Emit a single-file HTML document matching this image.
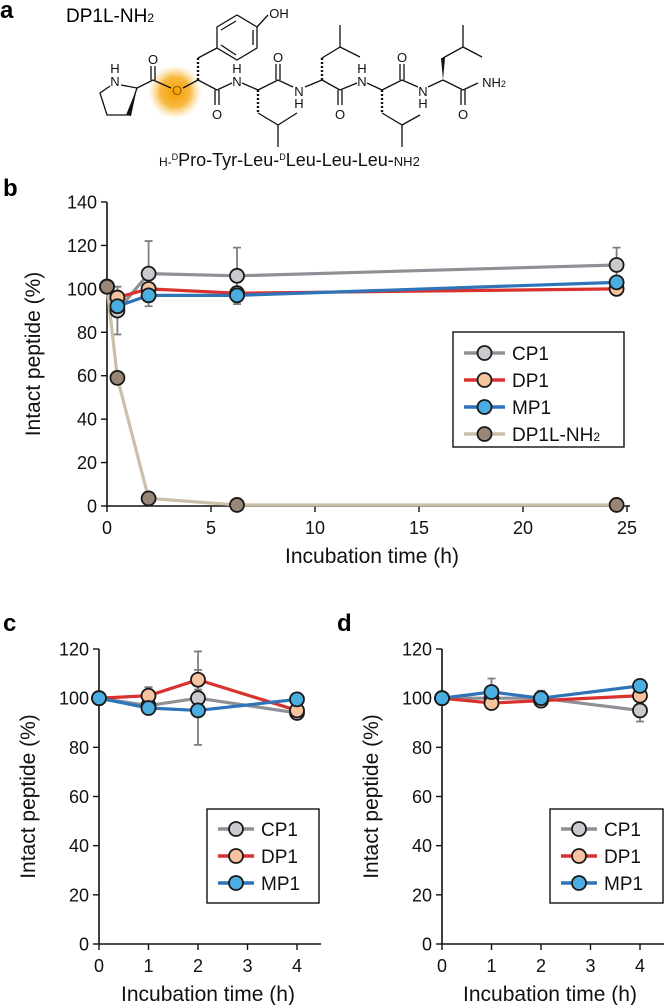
<!DOCTYPE html>
<html><head><meta charset="utf-8"><style>
html,body{margin:0;padding:0;background:#fff;}
svg{display:block;font-family:"Liberation Sans",Arial,sans-serif;}
</style></head><body>
<svg id="fig" width="665" height="1005" viewBox="0 0 665 1005" xmlns="http://www.w3.org/2000/svg">
<defs>
<radialGradient id="glow"><stop offset="0" stop-color="#f5a000"/><stop offset="0.55" stop-color="#f7b02a" stop-opacity="0.9"/><stop offset="1" stop-color="#fbd27a" stop-opacity="0"/></radialGradient>
</defs>
<g>
<text x="0" y="18" font-size="24" font-weight="bold">a</text>
<text x="66" y="22" font-size="19">DP1L-NH<tspan font-size="12">2</tspan></text>
<circle cx="175" cy="92" r="27" fill="url(#glow)"/>
<g stroke="#111" stroke-width="1.3" fill="none">
<polyline points="121,85 137,88 128,115 107,115 100,93 110,86"/>
<line x1="137" y1="88" x2="153" y2="80"/><line x1="153" y1="80" x2="171" y2="88"/>
<line x1="151" y1="80" x2="151" y2="66"/><line x1="155" y1="80" x2="155" y2="66"/>
<line x1="183" y1="88" x2="198" y2="80"/><line x1="198" y1="80" x2="217" y2="90"/><line x1="217" y1="90" x2="232" y2="83"/>
<line x1="198" y1="80" x2="198" y2="58" stroke-dasharray="2,2" stroke-width="2.4"/>
<line x1="198" y1="58" x2="217" y2="48"/>
<polygon points="217,48 217,27 237,15 257,27 257,48 237,60"/>
<line x1="221" y1="30" x2="236" y2="21"/><line x1="253" y1="30" x2="253" y2="45"/><line x1="221" y1="45" x2="236" y2="55"/>
<line x1="257" y1="27" x2="268" y2="15"/>
<line x1="215" y1="90" x2="215" y2="105"/><line x1="219" y1="90" x2="219" y2="105"/>
<line x1="242" y1="83" x2="258" y2="90"/><line x1="258" y1="90" x2="278" y2="80"/><line x1="278" y1="80" x2="293" y2="87"/>
<line x1="258" y1="90" x2="258" y2="113" stroke-dasharray="2,2" stroke-width="2.4"/>
<polyline points="258,113 278,125 278,147"/><line x1="278" y1="125" x2="297" y2="113"/>
<line x1="276" y1="80" x2="276" y2="64"/><line x1="280" y1="80" x2="280" y2="64"/>
<line x1="305" y1="87" x2="322" y2="80"/><line x1="322" y1="80" x2="340" y2="90"/><line x1="340" y1="90" x2="357" y2="83"/>
<line x1="322" y1="80" x2="322" y2="58" stroke-dasharray="2,2" stroke-width="2.4"/>
<polyline points="322,58 340,47 340,25"/><line x1="340" y1="47" x2="360" y2="57"/>
<line x1="338" y1="90" x2="338" y2="105"/><line x1="342" y1="90" x2="342" y2="105"/>
<line x1="367" y1="83" x2="382" y2="90"/><line x1="382" y1="90" x2="402" y2="80"/><line x1="402" y1="80" x2="418" y2="87"/>
<line x1="382" y1="90" x2="382" y2="113" stroke-dasharray="2,2" stroke-width="2.4"/>
<polyline points="382,113 402,125 402,147"/><line x1="402" y1="125" x2="420" y2="115"/>
<line x1="400" y1="80" x2="400" y2="64"/><line x1="404" y1="80" x2="404" y2="64"/>
<line x1="428" y1="87" x2="443" y2="80"/><line x1="443" y1="80" x2="463" y2="90"/><line x1="463" y1="90" x2="478" y2="83"/>
<polyline points="443,58 463,47 463,25"/><line x1="463" y1="47" x2="482" y2="57"/>
<line x1="461" y1="90" x2="461" y2="105"/><line x1="465" y1="90" x2="465" y2="105"/>
</g>
<polygon points="137,88 126,115 131,116" fill="#111"/>
<polygon points="443,80 441,58 445,58" fill="#111"/>
<g font-size="13" fill="#111" text-anchor="middle">
<text x="115" y="86">N</text><text x="115" y="73">H</text>
<text x="153" y="64">O</text><text x="177" y="95" fill="#9a5a00">O</text>
<text x="279" y="18">OH</text><text x="217" y="119">O</text>
<text x="237" y="86">N</text><text x="237" y="73">H</text>
<text x="278" y="62">O</text>
<text x="299" y="96">N</text><text x="299" y="108">H</text>
<text x="340" y="119">O</text>
<text x="362" y="86">N</text><text x="362" y="73">H</text>
<text x="402" y="62">O</text>
<text x="423" y="96">N</text><text x="423" y="108">H</text>
<text x="463" y="119">O</text>
<text x="494" y="87">NH<tspan font-size="9">2</tspan></text>
</g>
<text x="159" y="166" font-size="12" fill="#111">H-<tspan font-size="9" dy="-6">D</tspan><tspan font-size="18" dy="6">Pro-Tyr-Leu-</tspan><tspan font-size="9" dy="-6">D</tspan><tspan font-size="18" dy="6">Leu-Leu-Leu-</tspan><tspan font-size="13">NH2</tspan></text>
</g>
<g id="charts"></g>
</svg>
<script>
// Panel b data
const bTimes = [0, 0.5, 2, 6.25, 24.5];
const bCP1 = [101, 90, 107, 106, 111];
const bDP1 = [101, 96, 100, 98, 100];
const bMP1 = [101, 92, 97, 97, 103];
const bDP1L = [101, 59, 3.5, 0.5, 0.5];
const bCP1Err = [0, 11, 15, 13, 8];
const bXTicks = [0, 5, 10, 15, 20, 25];
const bYTicks = [0, 20, 40, 60, 80, 100, 120, 140];
// Panel c data
const cTimes = [0, 1, 2, 4];
const cCP1 = [100, 97, 100, 94];
const cDP1 = [100, 101, 107.5, 95];
const cMP1 = [100, 96, 95, 99.5];
const cCP1Err = [0, 2, 19, 2];
const cDP1Err = [0, 3.5, 4, 2];
// Panel d data
const dTimes = [0, 1, 2, 4];
const dCP1 = [100, 100, 100, 95];
const dDP1 = [100, 98, 99, 101];
const dMP1 = [100, 102.5, 100, 105];
const dCP1Err = [0, 2, 3, 4.5];
const dMP1Err = [0, 5.5, 2, 2.5];
const cdXTicks = [0, 1, 2, 3, 4];
const cdYTicks = [0, 20, 40, 60, 80, 100, 120];

const NS = 'http://www.w3.org/2000/svg';
const root = document.getElementById('charts');
const COL = {
  CP1: {line: '#8e9096', fill: '#c9cacd'},
  DP1: {line: '#d9322e', fill: '#f6c39f'},
  MP1: {line: '#2f73b8', fill: '#4baee0'},
  DP1L: {line: '#cbbfa8', fill: '#9a8676'}
};
function mk(tag, attrs, parent) {
  const e = document.createElementNS(NS, tag);
  for (const k in attrs) e.setAttribute(k, attrs[k]);
  (parent || root).appendChild(e);
  return e;
}
function chart(cfg) {
  const g = mk('g', {});
  
  
  const X = v => cfg.x0 + (v - cfg.xMin) / (cfg.xMax - cfg.xMin) * (cfg.x1 - cfg.x0);
  const Y = v => cfg.y0 - v / cfg.yMax * (cfg.y0 - cfg.y1);
  const lab = mk('text', {x: cfg.labX, y: cfg.labY, 'font-size': 24, 'font-weight': 'bold'}, g);
  lab.textContent = cfg.letter;
  
  
  const ax = mk('path', {d: `M${cfg.x0},${cfg.y1} V${cfg.y0} H${cfg.axEnd}`, stroke: '#111', 'stroke-width': 1.6, fill: 'none'}, g);
  
  
  cfg.yTicks.forEach(t => {
    mk('line', {x1: cfg.x0 - 6, x2: cfg.x0, y1: Y(t), y2: Y(t), stroke: '#111', 'stroke-width': 1.4}, g);
    const tx = mk('text', {x: cfg.x0 - 10, y: Y(t) + 6.5, 'font-size': 18, 'text-anchor': 'end', fill: '#111'}, g);
    tx.textContent = t;
    
    
  });
  cfg.xTicks.forEach(t => {
    mk('line', {x1: X(t), x2: X(t), y1: cfg.y0, y2: cfg.y0 + 6, stroke: '#111', 'stroke-width': 1.4}, g);
    const tx = mk('text', {x: X(t), y: cfg.y0 + 28, 'font-size': 18, 'text-anchor': 'middle', fill: '#111'}, g);
    tx.textContent = t;
    
    
  });
  const xt = mk('text', {x: cfg.xtX, y: cfg.y0 + 57, 'font-size': 21, 'text-anchor': 'middle', fill: '#111'}, g);
  xt.textContent = 'Incubation time (h)';
  
  
  const yc = (cfg.y0 + cfg.y1) / 2;
  const yt = mk('text', {x: cfg.ytX, y: yc, 'font-size': 21, 'text-anchor': 'middle', fill: '#111', transform: `rotate(-90 ${cfg.ytX} ${yc})`}, g);
  yt.textContent = 'Intact peptide (%)';
  
  
  cfg.series.forEach(s => {
    if (!s.err) return;
    s.vals.forEach((v, i) => {
      const e = s.err[i]; if (!e) return;
      const x = X(s.xs[i]);
      const eb = mk('path', {d: `M${x},${Y(v - e)} V${Y(v + e)} M${x - 4},${Y(v - e)} H${x + 4} M${x - 4},${Y(v + e)} H${x + 4}`, stroke: '#7d7f83', 'stroke-width': 1.8, fill: 'none'}, g);
      
      
    });
  });
  cfg.series.forEach(s => {
    const pl = mk('polyline', {points: s.vals.map((v, i) => X(s.xs[i]) + ',' + Y(v)).join(' '), stroke: COL[s.key].line, 'stroke-width': 3.2, fill: 'none', 'stroke-linejoin': 'round'}, g);
    
    
  });
  cfg.series.forEach(s => {
    s.vals.forEach((v, i) => {
      const c = mk('circle', {cx: X(s.xs[i]), cy: Y(v), r: 7, fill: COL[s.key].fill, stroke: '#1a1a1a', 'stroke-width': 1.8}, g);
      
      
    });
  });
  const L = cfg.legend;
  const lg = mk('g', {}, g);
  
  
  mk('rect', {x: L.x, y: L.y, width: L.w, height: L.h, fill: '#fff', stroke: '#111', 'stroke-width': 1.4}, lg);
  cfg.series.forEach((s, i) => {
    const yy = L.y + L.top + i * L.step;
    const ent = mk('g', {}, lg);
    
    
    mk('line', {x1: L.x + 11, x2: L.x + 11 + L.lw, y1: yy, y2: yy, stroke: COL[s.key].line, 'stroke-width': 3.4}, ent);
    mk('circle', {cx: L.x + 11 + L.lw / 2, cy: yy, r: 7, fill: COL[s.key].fill, stroke: '#1a1a1a', 'stroke-width': 1.8}, ent);
    const t = mk('text', {x: L.x + 18 + L.lw, y: yy + 7, 'font-size': 19, fill: '#111'}, ent);
    if (s.key === 'DP1L') { t.innerHTML = 'DP1L-NH<tspan font-size="12">2</tspan>'; } else { t.textContent = s.key; }
  });
}
chart({name: 'panel-b-chart', letter: 'b', labX: 3, labY: 196, x0: 107, x1: 627, xMin: 0, xMax: 25, axEnd: 630, y0: 506, y1: 202, yMax: 140,
  xTicks: bXTicks, yTicks: bYTicks, xtX: 372, ytX: 40,
  series: [
    {key: 'CP1', xs: bTimes, vals: bCP1, err: bCP1Err},
    {key: 'DP1', xs: bTimes, vals: bDP1},
    {key: 'MP1', xs: bTimes, vals: bMP1},
    {key: 'DP1L', xs: bTimes, vals: bDP1L}
  ],
  legend: {x: 453, y: 332, w: 171, h: 115, top: 21, step: 27, lw: 41}});
chart({name: 'panel-c-chart', letter: 'c', labX: 3, labY: 631, x0: 99, x1: 297, xMin: 0, xMax: 4, axEnd: 321, y0: 944, y1: 649, yMax: 120,
  xTicks: cdXTicks, yTicks: cdYTicks, xtX: 208, ytX: 35,
  series: [
    {key: 'CP1', xs: cTimes, vals: cCP1, err: cCP1Err},
    {key: 'DP1', xs: cTimes, vals: cDP1, err: cDP1Err},
    {key: 'MP1', xs: cTimes, vals: cMP1}
  ],
  legend: {x: 207, y: 809, w: 112, h: 94, top: 20, step: 27, lw: 36}});
chart({name: 'panel-d-chart', letter: 'd', labX: 337, labY: 631, x0: 442, x1: 640, xMin: 0, xMax: 4, axEnd: 664, y0: 944, y1: 649, yMax: 120,
  xTicks: cdXTicks, yTicks: cdYTicks, xtX: 550, ytX: 378,
  series: [
    {key: 'CP1', xs: dTimes, vals: dCP1, err: dCP1Err},
    {key: 'DP1', xs: dTimes, vals: dDP1},
    {key: 'MP1', xs: dTimes, vals: dMP1, err: dMP1Err}
  ],
  legend: {x: 550, y: 809, w: 113, h: 94, top: 20, step: 27, lw: 36}});
</script>
</body></html>
